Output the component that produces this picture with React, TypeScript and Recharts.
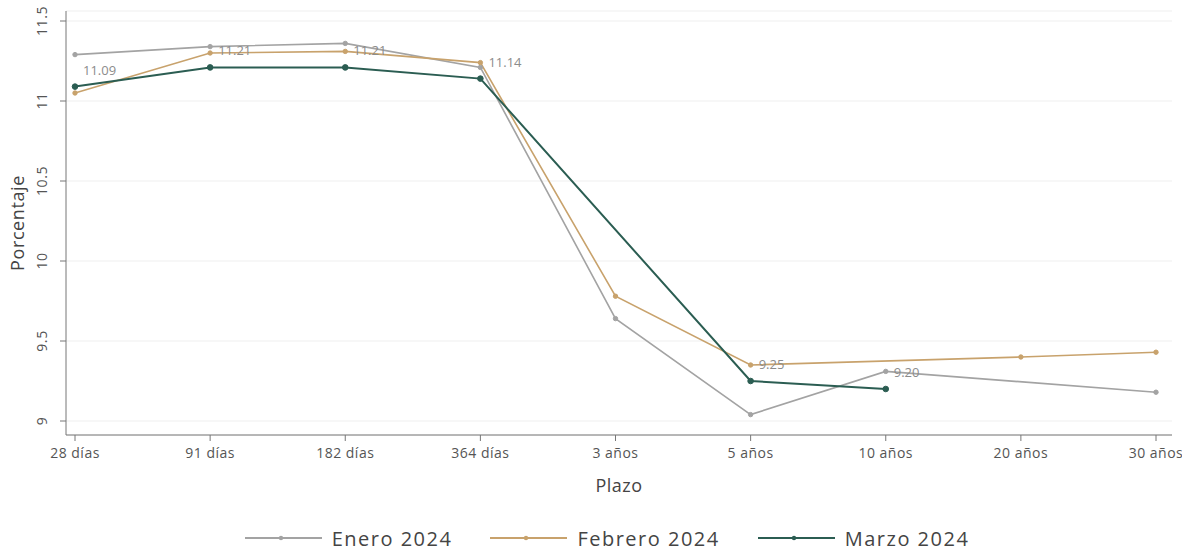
import React from 'react';
import { LineChart, Line, XAxis, YAxis, CartesianGrid, Legend, LabelList } from 'recharts';

const plazos = ['28 días', '91 días', '182 días', '364 días', '3 años', '5 años', '10 años', '20 años', '30 años'];
const enero = [11.29, 11.34, 11.36, 11.21, 9.64, 9.04, 9.31, null, 9.18];
const febrero = [11.05, 11.3, 11.31, 11.24, 9.78, 9.35, null, 9.4, 9.43];
const marzo = [11.09, 11.21, 11.21, 11.14, null, 9.25, 9.2, null, null];
const yTicks = [9, 9.5, 10, 10.5, 11, 11.5];

const data = plazos.map((p, i) => ({ plazo: p, enero: enero[i], febrero: febrero[i], marzo: marzo[i] }));

const series = [
  { key: 'enero', name: 'Enero 2024', color: '#a3a3a3', width: 1.6, r: 2.2 },
  { key: 'febrero', name: 'Febrero 2024', color: '#c8a26c', width: 1.6, r: 2.2 },
  { key: 'marzo', name: 'Marzo 2024', color: '#2b5d52', width: 2, r: 2.8 },
];

const font = '"Open Sans", sans-serif';

const YTick = (props: any) => {
  const { y, payload } = props;
  return (
    <text x={41} y={y} transform={`rotate(-90, 41, ${y})`} textAnchor="middle" dominantBaseline="central"
      fontSize={14} letterSpacing={0.6} fill="#555" fontFamily={font}>
      {payload.value}
    </text>
  );
};

const MarzoLabel = (props: any) => {
  const { x, y, value } = props;
  if (value == null) return null;
  return (
    <text x={x + 8} y={y - 17} fontSize={13} fill="#8c8c8c" fontFamily={font} dominantBaseline="central">
      {Number(value).toFixed(2)}
    </text>
  );
};

const LegendContent = () => (
  <div style={{ display: 'flex', justifyContent: 'center', paddingTop: 31, paddingLeft: 80, fontFamily: font }}>
    {series.map((s) => (
      <div key={s.key} style={{ display: 'flex', alignItems: 'center', marginRight: 38, height: 24 }}>
        <svg width={77} height={10} style={{ marginRight: 10 }}>
          <line x1={0} y1={5} x2={77} y2={5} stroke={s.color} strokeWidth={2} />
          <circle cx={36} cy={5} r={2.2} fill={s.color} />
        </svg>
        <span style={{ fontSize: 20, letterSpacing: 1.5, color: '#444' }}>{s.name}</span>
      </div>
    ))}
  </div>
);

export default function App() {
  return (
    <div style={{ position: 'absolute', left: 0, top: 0, background: '#fff' }}>
      <LineChart width={1182} height={552} data={data} margin={{ top: 11, right: 10, bottom: 0, left: 0 }}>
        <CartesianGrid vertical={false} stroke="#efefef" strokeWidth={1.2} />
        <XAxis
          dataKey="plazo"
          height={60}
          padding={{ left: 9, right: 16 }}
          tick={{ fontSize: 14, letterSpacing: 0.5, fill: '#555', fontFamily: font }}
          tickSize={6}
          tickMargin={7}
          stroke="#777"
          interval={0}
          label={{ value: 'Plazo', position: 'insideBottom', offset: 3, fontSize: 18, letterSpacing: 0.5, fill: '#444', fontFamily: font }}
        />
        <YAxis
          width={66}
          domain={[8.9125, 11.5625]}
          ticks={yTicks}
          tick={<YTick />}
          tickSize={6}
          stroke="#777"
          allowDataOverflow
          label={{ value: 'Porcentaje', angle: -90, position: 'center', dx: -15, fontSize: 18, letterSpacing: 0.6, fill: '#444', fontFamily: font }}
        />
        <Legend verticalAlign="bottom" height={57} content={<LegendContent />} />
        {series.map((s) => (
          <Line
            key={s.key}
            dataKey={s.key}
            name={s.name}
            type="linear"
            stroke={s.color}
            strokeWidth={s.width}
            dot={{ r: s.r, fill: s.color, stroke: s.color, strokeWidth: 1 }}
            connectNulls
            isAnimationActive={false}
          >
            {s.key === 'marzo' && <LabelList dataKey="marzo" content={<MarzoLabel />} />}
          </Line>
        ))}
      </LineChart>
    </div>
  );
}
